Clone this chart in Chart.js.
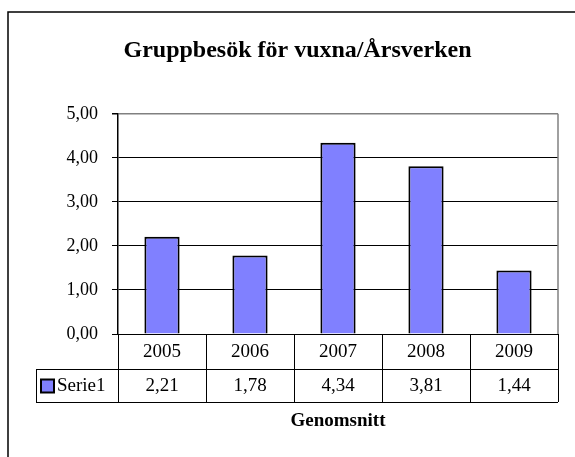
<!DOCTYPE html>
<html>
<head>
    <meta charset="utf-8">
    <title>Gruppbesök för vuxna/Årsverken</title>
    <script src="https://cdn.jsdelivr.net/npm/chart.js"></script>
    <style>
        body { margin: 0; background: #fff; }
        #chartContainer { width: 575px; height: 457px; }
    </style>
</head>
<body>

<div id="chartContainer">
    <canvas id="myChart" width="575" height="457"></canvas>
</div>

<script>
    // data
    const years = ['2005', '2006', '2007', '2008', '2009'];
    const serie1 = [2.21, 1.78, 4.34, 3.81, 1.44];
    const seriesName = 'Serie1';
    const yMin = 0, yMax = 5, yStep = 1;

    const serif = "'Liberation Serif', 'Times New Roman', serif";
    const barColor = '#8080FF';

    const fmt = v => v.toFixed(2).replace('.', ',');

    // white background + outer chart border
    const frame = {
        id: 'frame',
        beforeDraw(chart) {
            const ctx = chart.ctx;
            ctx.save();
            ctx.fillStyle = '#fff';
            ctx.fillRect(0, 0, chart.width, chart.height);
            ctx.strokeStyle = '#000';
            ctx.lineWidth = 1.5;
            ctx.strokeRect(8, 12, chart.width + 20, chart.height + 20);
            ctx.restore();
        }
    };

    // data table under the plot (like excel)
    const dataTable = {
        id: 'dataTable',
        afterDraw(chart) {
            const ctx = chart.ctx;
            const x = chart.scales.x;
            const y = chart.scales.y;
            const area = chart.chartArea;
            const n = years.length;
            const cw = (x.right - x.left) / n;
            const top = y.getPixelForValue(yMin);
            const r1 = top + 35;
            const r2 = r1 + 33;
            const legLeft = 36;

            ctx.save();
            // gray plot border on the right
            ctx.strokeStyle = '#808080';
            ctx.lineWidth = 1.5;
            ctx.beginPath();
            ctx.moveTo(area.right, area.top);
            ctx.lineTo(area.right, top);
            ctx.stroke();

            ctx.strokeStyle = '#000';
            ctx.lineWidth = 1;
            ctx.beginPath();
            ctx.moveTo(x.left, Math.round(top) + 0.5);
            ctx.lineTo(x.right, Math.round(top) + 0.5);
            ctx.moveTo(legLeft, r1 + 0.5);
            ctx.lineTo(x.right, r1 + 0.5);
            ctx.moveTo(legLeft, r2 + 0.5);
            ctx.lineTo(x.right, r2 + 0.5);
            for (let i = 0; i <= n; i++) {
                const bx = Math.round(x.left + i * cw) + 0.5;
                ctx.moveTo(bx, top);
                ctx.lineTo(bx, r2);
            }
            ctx.moveTo(legLeft + 0.5, r1);
            ctx.lineTo(legLeft + 0.5, r2);
            ctx.stroke();

            ctx.fillStyle = '#000';
            ctx.font = '19px ' + serif;
            ctx.textAlign = 'center';
            ctx.textBaseline = 'middle';
            for (let i = 0; i < n; i++) {
                const cx = x.getPixelForTick(i);
                ctx.fillText(years[i], cx, (top + r1) / 2 + 1);
                ctx.fillText(fmt(serie1[i]), cx, (r1 + r2) / 2 + 1);
            }

            // legend key
            const ky = (r1 + r2) / 2 - 6;
            ctx.fillStyle = barColor;
            ctx.fillRect(41, ky, 13, 13);
            ctx.lineWidth = 2;
            ctx.strokeRect(41, ky, 13, 13);
            ctx.fillStyle = '#000';
            ctx.textAlign = 'left';
            ctx.fillText(seriesName, 57, (r1 + r2) / 2 + 1);
            ctx.restore();
        }
    };

    const config = {
        type: 'bar',
        data: {
            labels: years,
            datasets: [{
                label: seriesName,
                data: serie1,
                backgroundColor: barColor,
                borderColor: '#000',
                borderWidth: 2,
                categoryPercentage: 1,
                barPercentage: 0.4
            }]
        },
        options: {
            responsive: false,
            animation: false,
            layout: { padding: { left: 37, right: 17, top: 0, bottom: 0 } },
            plugins: {
                legend: { display: false },
                tooltip: { enabled: false },
                title: {
                    display: true,
                    text: 'Gruppbesök för vuxna/Årsverken',
                    color: '#000',
                    font: { family: serif, size: 24, weight: 'bold' },
                    padding: { top: 36, bottom: 49 }
                }
            },
            scales: {
                x: {
                    ticks: { display: false },
                    grid: { display: false },
                    border: { display: false },
                    title: {
                        display: true,
                        text: 'Genomsnitt',
                        color: '#000',
                        font: { family: serif, size: 19, weight: 'bold' },
                        padding: { top: 0, bottom: 25 }
                    },
                    afterFit(scale) { scale.height = 123; }
                },
                y: {
                    min: yMin,
                    max: yMax,
                    ticks: {
                        stepSize: yStep,
                        padding: 14,
                        color: '#000',
                        font: { family: serif, size: 18 },
                        callback: v => fmt(v)
                    },
                    grid: {
                        color: ctx => ctx.tick && ctx.tick.value === yMax ? '#808080' : '#000',
                        lineWidth: ctx => ctx.tick && ctx.tick.value === yMax ? 1.5 : 1,
                        tickColor: '#000',
                        tickLength: 6
                    },
                    border: { color: '#000', width: 1.5 },
                    afterFit(scale) { scale.width = 81; }
                }
            }
        },
        plugins: [frame, dataTable]
    };

    const myChart = new Chart(document.getElementById('myChart'), config);
</script>

</body>
</html>
